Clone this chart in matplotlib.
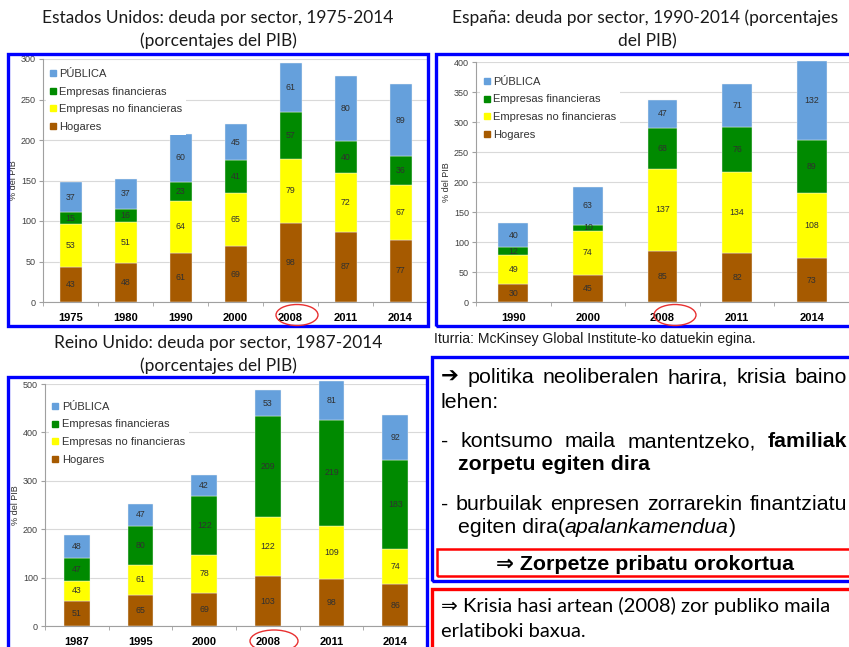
import matplotlib
matplotlib.use("Agg")
import matplotlib.pyplot as plt
from matplotlib.patches import Rectangle, Ellipse
from matplotlib.lines import Line2D

W, H = 849, 647

# stacked from the bottom: Hogares, no financieras, financieras, pública
sectors = ["Hogares", "Empresas no financieras", "Empresas financieras", "PÚBLICA"]
colors = ["#A65A00", "#FFFF00", "#008A00", "#65A0DC"]

us_years = ["1975", "1980", "1990", "2000", "2008", "2011", "2014"]
us_hogares = [43, 48, 61, 69, 98, 87, 77]
us_no_fin = [53, 51, 64, 65, 79, 72, 67]
us_fin = [15, 16, 23, 41, 57, 40, 36]
us_publica = [37, 37, 60, 45, 61, 80, 89]

es_years = ["1990", "2000", "2008", "2011", "2014"]
es_hogares = [30, 45, 85, 82, 73]
es_no_fin = [49, 74, 137, 134, 108]
es_fin = [12, 10, 68, 76, 89]
es_publica = [40, 63, 47, 71, 132]

uk_years = ["1987", "1995", "2000", "2008", "2011", "2014"]
uk_hogares = [51, 65, 69, 103, 98, 86]
uk_no_fin = [43, 61, 78, 122, 109, 74]
uk_fin = [47, 80, 122, 209, 219, 183]
uk_publica = [48, 47, 42, 53, 81, 92]

ARIAL = ["Liberation Sans", "DejaVu Sans"]
CALIBRI = ["Lato", "DejaVu Sans"]

fig = plt.figure(figsize=(W / 100, H / 100), dpi=100)
fig.patch.set_facecolor("white")


def fx(x):
    return x / W


def fy(y):
    return 1 - y / H


def px_rect(l, t, r, b):
    return [l / W, 1 - b / H, (r - l) / W, (b - t) / H]


def draw_chart(rect, years, series, ymax, xright, leg_xy):
    ax = fig.add_axes(rect)
    n = len(years)
    xs = list(range(n))
    bottom = [0] * n
    for vals, c in zip(series, colors):
        ax.bar(xs, vals, 0.4, bottom=bottom, color=c, edgecolor="#f4f4f4",
               linewidth=0.3, zorder=2, clip_on=False)
        for xi, v, b in zip(xs, vals, bottom):
            ax.text(xi, b + v / 2, str(v), ha="center", va="center",
                    fontsize=6.3, color="#303030", family=ARIAL, zorder=3)
        bottom = [b + v for b, v in zip(bottom, vals)]
    ax.set_xlim(-0.5, xright)
    ax.set_ylim(0, ymax)
    ax.set_yticks(range(0, ymax + 1, 50 if ymax <= 400 else 100))
    ax.yaxis.grid(True, color="#D9D9D9", linewidth=0.8)
    ax.set_axisbelow(True)
    for s in ("top", "right"):
        ax.spines[s].set_visible(False)
    for s in ("left", "bottom"):
        ax.spines[s].set_color("#A0A0A0")
        ax.spines[s].set_linewidth(0.8)
    ax.set_xticks(xs)
    ax.set_xticklabels(years, fontsize=8, fontweight="bold", family=ARIAL)
    ax.set_xticks([i - 0.5 for i in range(n + 1)], minor=True)
    ax.tick_params(axis="x", which="major", length=0, pad=8)
    ax.tick_params(axis="x", which="minor", length=3, color="#A0A0A0")
    ax.tick_params(axis="y", length=3, color="#A0A0A0", labelsize=6.5,
                   labelcolor="#404040", pad=2)
    for lab in ax.get_yticklabels():
        lab.set_family(ARIAL)
    ax.set_ylabel("% del PIB", fontsize=6.5, family=ARIAL, color="#303030",
                  labelpad=2)
    handles = [Line2D([], [], marker="s", linestyle="none", markersize=4.5,
                      color=c) for c in colors[::-1]]
    leg = ax.legend(handles, sectors[::-1], loc="upper left",
                    bbox_to_anchor=leg_xy, frameon=True, fancybox=False,
                    facecolor="white", edgecolor="none", framealpha=1,
                    prop={"family": ARIAL, "size": 8},
                    handlelength=0.6, handletextpad=0.3, labelspacing=0.68,
                    borderaxespad=0, borderpad=0.3)
    for t in leg.get_texts():
        t.set_color("#333333")
    leg.set_zorder(4)
    return ax


draw_chart(px_rect(43, 59, 428, 302), us_years,
           [us_hogares, us_no_fin, us_fin, us_publica], 300, 6.32, (0.008, 0.972))
draw_chart(px_rect(476, 62, 849, 302), es_years,
           [es_hogares, es_no_fin, es_fin, es_publica], 400, 4.16, (0.011, 0.952))
draw_chart(px_rect(45, 384, 427, 626), uk_years,
           [uk_hogares, uk_no_fin, uk_fin, uk_publica], 500, 5.3, (0.01, 0.94))

# chart titles
title_kw = dict(ha="center", va="center", fontsize=12.5, family=CALIBRI,
                color="#1a1a1a")
fig.text(fx(218), fy(18), "Estados Unidos: deuda por sector, 1975-2014", **title_kw)
fig.text(fx(218), fy(41), "(porcentajes del PIB)", **title_kw)
fig.text(fx(645), fy(18), "España: deuda por sector, 1990-2014 (porcentajes", **title_kw)
fig.text(fx(647), fy(41), "del PIB)", **title_kw)
fig.text(fx(218), fy(343), "Reino Unido: deuda por sector, 1987-2014", **title_kw)
fig.text(fx(218), fy(366), "(porcentajes del PIB)", **title_kw)

fig.text(fx(434), fy(339), "Iturria: McKinsey Global Institute-ko datuekin egina.",
         ha="left", va="center", fontsize=10.1, family=ARIAL, color="#1a1a1a")


# frames
def frame(l, t, r, b, color, lw):
    fig.add_artist(Rectangle((fx(l), fy(b)), (r - l) / W, (b - t) / H,
                             transform=fig.transFigure, fill=False,
                             edgecolor=color, linewidth=lw))


frame(8, 54, 428, 326, "#0000FF", 2.4)
frame(436, 54, 860, 326, "#0000FF", 2.4)
frame(8, 377, 427, 700, "#0000FF", 2.4)
frame(432, 357, 860, 581, "#0000FF", 2.4)
frame(437, 549, 860, 576, "#FF0000", 1.8)
frame(432, 589, 860, 700, "#FF0000", 2.4)

# 2008 markers
for cx, cy, w, h in [(297, 315, 42, 21), (675, 315, 42, 21), (274, 641, 48, 22)]:
    fig.add_artist(Ellipse((fx(cx), fy(cy)), w / W, h / H,
                           transform=fig.transFigure, fill=False,
                           edgecolor="#E83030", linewidth=1.0))

# text block
renderer = fig.canvas.get_renderer()


def put_words(pieces, x0, y, x1=None, size=15.4, family=ARIAL):
    objs = []
    for txt, weight, style in pieces:
        t = fig.text(0, fy(y), txt, ha="left", va="baseline", fontsize=size,
                     family=family, fontweight=weight, fontstyle=style,
                     color="black")
        objs.append(t)
    widths = [t.get_window_extent(renderer).width for t in objs]
    if x1 is None:
        gap = 0
    else:
        gap = (x1 - x0 - sum(widths)) / (len(objs) - 1)
    x = x0
    for t, w in zip(objs, widths):
        t.set_x(fx(x))
        x += w + gap


N, B, I = "normal", "bold", "italic"
put_words([("➔", B, N), ("politika", N, N), ("neoliberalen", N, N),
           ("harira,", N, N), ("krisia", N, N), ("baino", N, N)], 441, 383, 847)
put_words([("lehen:", N, N)], 441, 408)
put_words([("-", N, N), ("kontsumo", N, N), ("maila", N, N),
           ("mantentzeko,", N, N), ("familiak", B, N)], 441, 447, 847)
put_words([("zorpetu egiten dira", B, N)], 458, 470)
put_words([("-", N, N), ("burbuilak", N, N), ("enpresen", N, N),
           ("zorrarekin", N, N), ("finantziatu", N, N)], 441, 510, 847)
put_words([("egiten dira(", N, N), ("apalankamendua", N, I), (")", N, N)], 458, 533)
fig.text(fx(645), fy(570), "⇒ Zorpetze pribatu orokortua", ha="center",
         va="baseline", fontsize=15.4, fontweight="bold", family=ARIAL)
put_words([("⇒ Krisia hasi artean (2008) zor publiko maila", N, N)], 441, 612,
          size=14.5, family=CALIBRI)
put_words([("erlatiboki baxua.", N, N)], 441, 637, size=14.5, family=CALIBRI)

fig.savefig("out.png", dpi=100)
